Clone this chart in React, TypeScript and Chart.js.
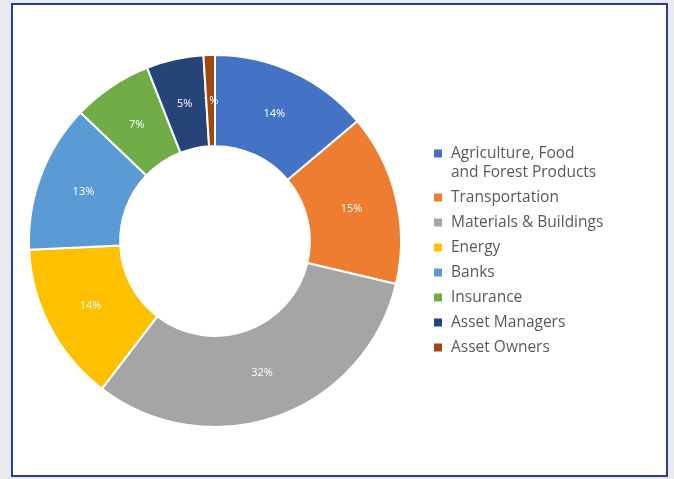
import React, { useEffect, useRef } from "react";
import { Chart, registerables } from "chart.js";

Chart.register(...registerables);

const categories = [
  "Agriculture, Food\nand Forest Products",
  "Transportation",
  "Materials & Buildings",
  "Energy",
  "Banks",
  "Insurance",
  "Asset Managers",
  "Asset Owners",
];
const shares = [14, 15, 32, 14, 13, 7, 5, 1];
const sliceColors = ["#4472C4", "#ED7D31", "#A5A5A5", "#FFC000", "#5B9BD5", "#70AD47", "#264478", "#9E480E"];
const FONT = "'Open Sans', 'Noto Sans', sans-serif";

const sliceLabels = {
  id: "sliceLabels",
  afterDatasetsDraw(chart: any) {
    const ctx = chart.ctx;
    const meta = chart.getDatasetMeta(0);
    ctx.save();
    ctx.fillStyle = "#ffffff";
    ctx.font = `11px ${FONT}`;
    ctx.textAlign = "center";
    ctx.textBaseline = "middle";
    meta.data.forEach((arc: any, i: number) => {
      const p = arc.tooltipPosition();
      ctx.fillText(shares[i] + "%", p.x, p.y);
    });
    ctx.restore();
  },
};

const sideLegend = {
  id: "sideLegend",
  afterDraw(chart: any) {
    const ctx = chart.ctx;
    const x0 = 421;
    let y = 148.5;
    ctx.save();
    ctx.font = `15.5px ${FONT}`;
    ctx.textBaseline = "middle";
    ctx.textAlign = "left";
    chart.data.labels.forEach((lab: string, i: number) => {
      const lines = lab.split("\n");
      ctx.fillStyle = sliceColors[i];
      ctx.fillRect(x0, y - 4, 8, 8);
      ctx.fillStyle = "#595959";
      lines.forEach((ln, j) => {
        ctx.fillText(ln, x0 + 17, y + j * 19);
      });
      y += 25 + (lines.length - 1) * 19;
    });
    ctx.restore();
  },
};

export default function App() {
  const ref = useRef<HTMLCanvasElement>(null);
  useEffect(() => {
    document.body.style.margin = "0";
    const chart = new Chart(ref.current!, {
      type: "doughnut",
      data: {
        labels: categories,
        datasets: [
          {
            data: shares,
            backgroundColor: sliceColors,
            borderColor: "#ffffff",
            borderWidth: 2,
          },
        ],
      },
      options: {
        animation: false,
        responsive: false,
        cutout: "51%",
        layout: { padding: { left: 14, top: 49, right: 263, bottom: 47 } },
        plugins: { legend: { display: false }, tooltip: { enabled: false } },
      },
      plugins: [sliceLabels, sideLegend],
    });
    return () => chart.destroy();
  }, []);
  return (
    <div style={{ position: "fixed", left: 0, top: 0, width: 674, height: 479, background: "#e9eaf0" }}>
      <div
        style={{
          position: "absolute",
          left: 11,
          top: 3,
          width: 653,
          height: 470,
          border: "2px solid #2c3b8c",
          background: "#ffffff",
        }}
      >
        <canvas ref={ref} width={653} height={470} style={{ display: "block" }} />
      </div>
    </div>
  );
}
